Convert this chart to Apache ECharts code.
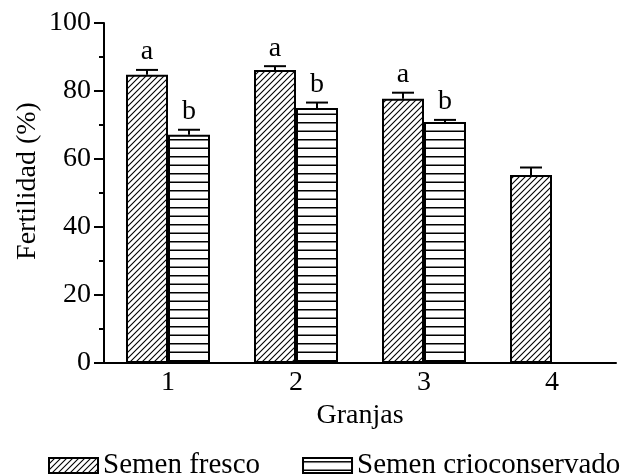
<!DOCTYPE html>
<html>
<head>
<meta charset="utf-8">
<script src="https://cdn.jsdelivr.net/npm/echarts@6/dist/echarts.min.js"></script>
<style>
html,body{margin:0;padding:0;background:#fff;}
#c{width:621px;height:476px;}
</style>
</head>
<body>
<div id="c"></div>
<script>
// ---- data ----
var categories = ['1', '2', '3', '4'];
var seriesNames = ['Semen fresco', 'Semen crioconservado'];
var frescoMean = [84.8, 86.2, 77.7, 55.3];
var frescoErr = [1.4, 1.1, 1.8, 2.2];
var crioMean = [67.1, 75.0, 70.9, null];
var crioErr = [1.5, 1.6, 0.6, null];
var frescoLetters = ['a', 'a', 'a', ''];
var crioLetters = ['b', 'b', 'b', ''];
var yTicks = [0, 20, 40, 60, 80, 100];

var FONT = '"Liberation Serif", "Times New Roman", serif';

function diagPattern() {
  var c = document.createElement('canvas');
  c.width = 6; c.height = 6;
  var g = c.getContext('2d');
  g.fillStyle = '#fff'; g.fillRect(0, 0, 6, 6);
  g.strokeStyle = '#000'; g.lineWidth = 1.1;
  g.beginPath();
  g.moveTo(-1, 7); g.lineTo(7, -1);
  g.moveTo(-4, 4); g.lineTo(4, -4);
  g.moveTo(2, 10); g.lineTo(10, 2);
  g.stroke();
  return c;
}
function horizPattern() {
  var c = document.createElement('canvas');
  c.width = 8; c.height = 17;
  var g = c.getContext('2d');
  g.fillStyle = '#fff'; g.fillRect(0, 0, 8, 17);
  g.fillStyle = '#000';
  g.fillRect(0, 3, 8, 1.5);
  g.fillRect(0, 11.5, 8, 1.5);
  return c;
}
var diagFill = { image: diagPattern(), repeat: 'repeat' };
var horizFill = { image: horizPattern(), repeat: 'repeat' };

var BAR_W = 42;

function errData(means, errs) {
  var out = [];
  for (var i = 0; i < means.length; i++) {
    if (means[i] == null) continue;
    out.push([i, means[i], errs[i]]);
  }
  return out;
}

function makeErrRender(offsetSign, letters) {
  return function (params, api) {
    var cat = api.value(0), mean = api.value(1), err = api.value(2);
    var base = api.coord([cat, mean]);
    var top = api.coord([cat, mean + err]);
    var x = base[0] + offsetSign * BAR_W / 2;
    var half = 11;
    var children = [
      { type: 'line', shape: { x1: x, y1: base[1], x2: x, y2: top[1] }, style: { stroke: '#000', lineWidth: 2 } },
      { type: 'line', shape: { x1: x - half, y1: top[1], x2: x + half, y2: top[1] }, style: { stroke: '#000', lineWidth: 2 } }
    ];
    var letter = letters[cat];
    if (letter) {
      children.push({
        type: 'text', x: x, y: top[1] - 4,
        style: { text: letter, font: '28px ' + FONT, fill: '#000', align: 'center', verticalAlign: 'bottom' }
      });
    }
    return { type: 'group', children: children };
  };
}

var chart = echarts.init(document.getElementById('c'), null, { renderer: 'canvas' });
chart.setOption({
  animation: false,
  backgroundColor: '#fff',
  textStyle: { fontFamily: FONT, color: '#000' },
  grid: { left: 104, right: 5, top: 23, bottom: 113, containLabel: false },
  legend: {
    data: seriesNames,
    left: 48, top: 451, padding: 0,
    itemWidth: 49, itemHeight: 15, itemGap: 42,
    textStyle: { fontSize: 29, fontFamily: FONT, color: '#000' },
    icon: 'rect'
  },
  xAxis: {
    type: 'category',
    data: categories,
    name: 'Granjas',
    nameLocation: 'middle',
    nameGap: 31,
    nameTextStyle: { fontSize: 28, fontFamily: FONT, color: '#000' },
    axisLine: { lineStyle: { color: '#000', width: 2 } },
    axisTick: { show: false },
    axisLabel: { fontSize: 28, fontFamily: FONT, color: '#000', margin: 6 }
  },
  yAxis: {
    type: 'value',
    min: yTicks[0], max: yTicks[yTicks.length - 1], interval: 20,
    axisLine: { show: true, lineStyle: { color: '#000', width: 2 } },
    axisTick: { show: true, length: 10, lineStyle: { color: '#000', width: 2 } },
    minorTick: { show: true, splitNumber: 2, length: 5, lineStyle: { color: '#000', width: 2 } },
    splitLine: { show: false },
    axisLabel: { fontSize: 28, fontFamily: FONT, color: '#000', margin: 13 }
  },
  graphic: [{
    type: 'text', x: 28, y: 181, rotation: Math.PI / 2,
    style: { text: 'Fertilidad (%)', font: '28px ' + FONT, fill: '#000', align: 'center', verticalAlign: 'middle' }
  }],
  series: [
    {
      name: seriesNames[0], type: 'bar', data: frescoMean,
      barWidth: BAR_W, barGap: '0%',
      itemStyle: { color: diagFill, borderColor: '#000', borderWidth: 2 }
    },
    {
      name: seriesNames[1], type: 'bar', data: crioMean,
      barWidth: BAR_W, barGap: '0%',
      itemStyle: { color: horizFill, borderColor: '#000', borderWidth: 2 }
    },
    {
      type: 'custom', data: errData(frescoMean, frescoErr),
      renderItem: makeErrRender(-1, frescoLetters), z: 5
    },
    {
      type: 'custom', data: errData(crioMean, crioErr),
      renderItem: makeErrRender(1, crioLetters), z: 5
    }
  ]
});
</script>
</body>
</html>
